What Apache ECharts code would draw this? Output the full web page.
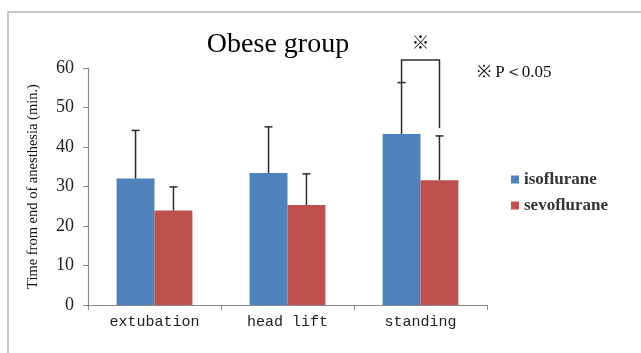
<!DOCTYPE html>
<html><head><meta charset="utf-8">
<script src="https://cdn.jsdelivr.net/npm/echarts@6/dist/echarts.min.js"></script>
<style>html,body{margin:0;padding:0;background:#fff}#c{width:641px;height:353px}</style>
</head><body><div id="c"></div>
<script>
var categories = ['extubation', 'head lift', 'standing'];
var isoMeans = [32.0, 33.4, 43.3];
var isoUpper = [44.2, 45.1, 56.3];
var sevoMeans = [23.9, 25.3, 31.6];
var sevoUpper = [29.9, 33.2, 42.8];
var yTicks = [0, 10, 20, 30, 40, 50, 60];
// significance bracket: [categoryIndex, leftBottom, top, rightBottom]
var bracket = [[2, 56.3, 62.0, 44.8]];
var markValue = 66.6;

var serif = '"Liberation Serif","Times New Roman",serif';
var chart = echarts.init(document.getElementById('c'));
var gapRatio = 0.43;

function errItem(sign) {
  return function (params, api) {
    var idx = api.value(0);
    var base = api.coord([idx, api.value(1)]);
    var top = api.coord([idx, api.value(2)]);
    var band = api.size([1, 0])[0];
    var bw = band * (1 - gapRatio) / 2;
    var x = base[0] + sign * bw / 2;
    var cap = 4;
    return {
      type: 'group',
      children: [
        {type: 'line', shape: {x1: x, y1: base[1], x2: x, y2: top[1]}, style: {stroke: '#2b2b2b', lineWidth: 1.5}},
        {type: 'line', shape: {x1: x - cap, y1: top[1], x2: x + cap, y2: top[1]}, style: {stroke: '#2b2b2b', lineWidth: 1.5}}
      ]
    };
  };
}

chart.setOption({
  animation: false,
  title: {
    text: 'Obese group', left: 273, top: 26, textAlign: 'center',
    textStyle: {fontFamily: serif, fontSize: 28, fontWeight: 'normal', color: '#000'}
  },
  graphic: [
    {type: 'rect', shape: {x: 8, y: 12, width: 660, height: 360}, style: {fill: 'none', stroke: '#b5b5b5', lineWidth: 1.5}, z: -1},
    {type: 'text', left: 477, top: 64, style: {text: '※ P＜0.05', font: '17px ' + serif, fill: '#111'}}
  ],
  legend: {
    orient: 'vertical', left: 506, top: 166, itemWidth: 8, itemHeight: 8, itemGap: 9,
    icon: 'rect',
    textStyle: {fontFamily: serif, fontSize: 17, fontWeight: 'bold', color: '#333'},
    data: ['isoflurane', 'sevoflurane']
  },
  grid: {left: 88, right: 154, top: 68, bottom: 48},
  xAxis: {
    type: 'category', data: categories,
    axisLine: {lineStyle: {color: '#8a8a8a', width: 1.2}},
    axisTick: {show: true, length: 5, lineStyle: {color: '#8a8a8a'}},
    axisLabel: {fontFamily: '"Liberation Mono","DejaVu Sans Mono",monospace', fontSize: 15, color: '#222', margin: 10}
  },
  yAxis: {
    type: 'value', min: yTicks[0], max: yTicks[yTicks.length - 1], interval: 10,
    name: 'Time from end of anesthesia (min.)', nameLocation: 'middle', nameGap: 47, nameRotate: 90,
    nameTextStyle: {fontFamily: serif, fontSize: 14.5, color: '#111'},
    axisLine: {show: true, lineStyle: {color: '#8a8a8a', width: 1.2}},
    axisTick: {show: true, length: 5, lineStyle: {color: '#8a8a8a'}},
    axisLabel: {fontFamily: serif, fontSize: 18, color: '#222', margin: 14},
    splitLine: {show: false}
  },
  series: [
    {name: 'isoflurane', type: 'bar', data: isoMeans, barGap: '0%', barCategoryGap: (gapRatio * 100) + '%', itemStyle: {color: '#4F81BD'}},
    {name: 'sevoflurane', type: 'bar', data: sevoMeans, itemStyle: {color: '#C0504D'}},
    {type: 'custom', silent: true, z: 5, data: isoMeans.map(function (v, i) { return [i, v, isoUpper[i]]; }), renderItem: errItem(-1)},
    {type: 'custom', silent: true, z: 5, data: sevoMeans.map(function (v, i) { return [i, v, sevoUpper[i]]; }), renderItem: errItem(1)},
    {type: 'custom', silent: true, z: 5, clip: false, data: bracket,
      renderItem: function (params, api) {
        var idx = api.value(0);
        var band = api.size([1, 0])[0];
        var bw = band * (1 - gapRatio) / 2;
        var c = api.coord([idx, api.value(2)]);
        var lb = api.coord([idx, api.value(1)]);
        var rb = api.coord([idx, api.value(3)]);
        var xl = c[0] - bw / 2, xr = c[0] + bw / 2;
        var mk = api.coord([idx, markValue]);
        return {type: 'group', children: [
          {type: 'polyline', shape: {points: [[xl, lb[1]], [xl, c[1]], [xr, c[1]], [xr, rb[1]]]}, style: {stroke: '#2b2b2b', lineWidth: 1.5, fill: 'none'}},
          {type: 'text', x: c[0], y: mk[1], style: {text: '※', font: '18px "Noto Sans CJK JP",sans-serif', fill: '#111', align: 'center', verticalAlign: 'middle'}}
        ]};
      }}
  ]
});
</script></body></html>
